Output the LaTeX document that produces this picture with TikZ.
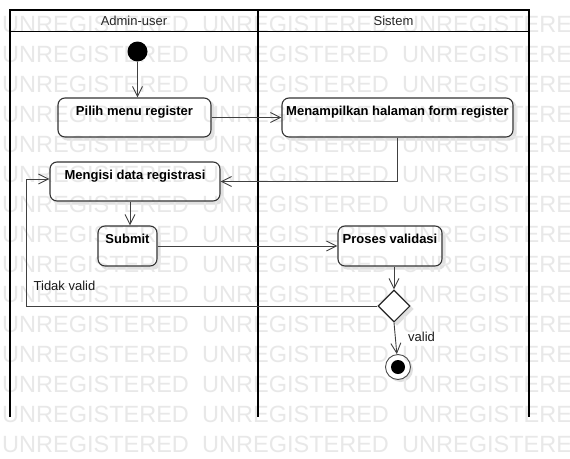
\documentclass[tikz,border=0pt]{standalone}
\usepackage{fontspec}
\setmainfont{Liberation Sans}
\usetikzlibrary{arrows.meta,shapes.geometric}
\pgfdeclarelayer{shad}
\pgfdeclarelayer{wm}
\pgfsetlayers{shad,wm,main}
\tikzset{
  act/.style={draw=black!80, line width=1.1pt, rounded corners=7pt,
    font=\fontsize{13}{15}\selectfont\bfseries, inner xsep=0pt, inner ysep=4pt,
    text height=13pt, text depth=18pt, minimum height=39pt},
  conn/.style={draw=black!75, line width=0.9pt,
    -{Straight Barb[length=10pt,width=10pt,line width=0.9pt]}},
  lane/.style={draw=black, line width=1.8pt},
  lanehead/.style={font=\fontsize{13}{15}\selectfont, text=black!85, inner sep=0pt},
  lbl/.style={font=\fontsize{13}{15}\selectfont, text=black!90, inner sep=0pt},
  wmk/.style={anchor=base west, inner sep=0pt, text=black!9,
    font=\fontsize{23.5}{23.5}\selectfont},
  shadowfill/.style={fill=black!12, rounded corners=7pt},
}
\begin{document}
\begin{tikzpicture}[x=1pt,y=-1pt]
\useasboundingbox (0,0) rectangle (570,458);

% swimlanes
\draw[lane] (10,417) -- (10,10) -- (529,10) -- (529,417);
\draw[lane] (10,31.5) -- (529,31.5);
\draw[lane] (258,10) -- (258,417);
\node[lanehead] (h1) at (134,20.5) {Admin-user};
\node[lanehead] (h2) at (393.5,20.5) {Sistem};

% nodes
\node[circle, fill=black, minimum size=20pt, inner sep=0pt] (start) at (137.5,51.5) {};
\node[act, minimum width=153pt] (pilih) at (134.5,117.5) {Pilih menu register};
\node[act, minimum width=231pt] (menampilkan) at (397.5,117.5) {Menampilkan halaman form register};
\node[act, minimum width=170pt] (mengisi) at (135,181.5) {Mengisi data registrasi};
\node[act, minimum width=59pt, minimum height=40pt] (submit) at (127.5,246) {Submit};
\node[act, minimum width=104pt, minimum height=40pt] (proses) at (390,246) {Proses validasi};
\node[diamond, draw=black!85, line width=1.1pt, minimum width=32pt, minimum height=32pt, inner sep=0pt] (dia) at (394,306) {};
\node[circle, draw=black!70, line width=0.9pt, minimum size=25pt, inner sep=0pt] (end) at (398,367) {};
\node[circle, fill=black, minimum size=14pt, inner sep=0pt] (endin) at (end.center) {};

% background, shadows and white fills
\begin{pgfonlayer}{shad}
\fill[white] (0,0) rectangle (570,458);
\foreach \n in {pilih,menampilkan,mengisi,submit,proses}{
  \fill[shadowfill] ([shift={(3,3)}]\n.south west) rectangle ([shift={(3,3)}]\n.north east);
  \fill[white, rounded corners=7pt] (\n.south west) rectangle (\n.north east);
}
\fill[black!12] ([shift={(3,3)}]dia.north) -- ([shift={(3,3)}]dia.east) -- ([shift={(3,3)}]dia.south) -- ([shift={(3,3)}]dia.west) -- cycle;
\fill[white] (dia.north) -- (dia.east) -- (dia.south) -- (dia.west) -- cycle;
\fill[black!12] ([shift={(2.5,2.5)}]end.center) circle (12.5);
\fill[white] (end.center) circle (12.5);
\end{pgfonlayer}

% watermark
\begin{pgfonlayer}{wm}
\begin{scope}
\clip (0,0) rectangle (570,458);
\foreach \r in {0,...,14}{
  \foreach \c in {0,1,2}{
    \node[wmk] (wm-\r-\c) at (2+200*\c, 32+30*\r) {UNREGISTERED};
  }
}
\end{scope}
\end{pgfonlayer}

% connectors
\coordinate (sb) at (130,0);
\coordinate (lp) at (26,179);
\draw[conn] (start) -- (start.south |- pilih.north);
\draw[conn] (pilih) -- (menampilkan);
\draw[conn] (menampilkan.south) |- (mengisi.east);
\draw[conn] (mengisi.south -| sb) -- (submit.north -| sb);
\draw[conn] (submit) -- (proses);
\draw[conn] (proses.south -| dia.north) -- (dia.north);
\draw[conn] (dia.west) -| (lp) -- (mengisi.west |- lp);
\draw[conn] (dia.south) -- (end);

% labels
\node[lbl] (tv) at (64.5,286) {Tidak valid};
\node[lbl] (vl) at (421.5,337) {valid};
\end{tikzpicture}
\end{document}
